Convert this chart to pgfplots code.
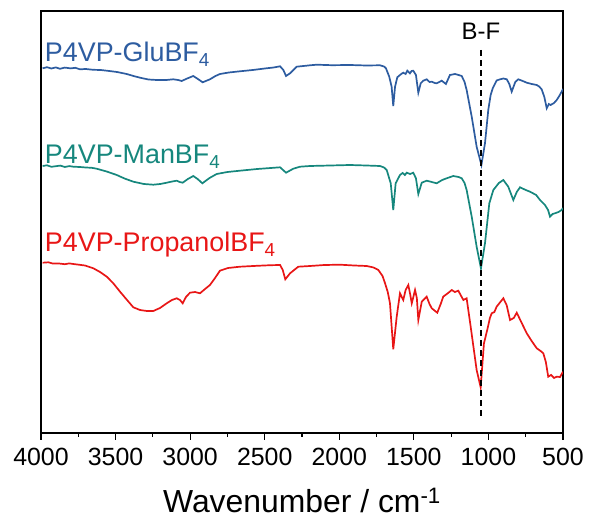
\documentclass[border=0pt]{standalone}
\usepackage{pgfplots}
\pgfplotsset{compat=1.18}
\usepackage{fontspec}
\setmainfont{Liberation Sans}
\definecolor{cblue}{RGB}{45,92,160}
\definecolor{cteal}{RGB}{22,135,125}
\definecolor{cred}{RGB}{232,22,22}
\begin{document}
\begin{tikzpicture}
\path (-41bp,-88bp) rectangle (548bp,433bp);
\begin{axis}[
  at={(0,0)}, anchor=south west,
  width=522bp, height=422bp, scale only axis,
  xmin=500, xmax=4000, ymin=-433, ymax=-11,
  x dir=reverse,
  xtick={500,1000,...,4000},
  minor x tick num=1,
  ytick=\empty,
  xtick pos=left,
  tick align=inside,
  major tick length=-7bp, minor tick length=-3.5bp,
  axis line style={line width=1.2bp},
  tick style={black, line width=1.1bp},
  tick label style={font=\fontsize{25}{25}\selectfont},
  xticklabel style={yshift=-12bp},
  /pgf/number format/assume math mode=true,
  /pgf/number format/1000 sep={},
  xlabel={Wavenumber / cm\textsuperscript{-1}},
  xlabel style={font=\fontsize{32}{32}\selectfont, at={(axis description cs:0.5,0)}, anchor=base, yshift=-79bp},
]
\addplot[cblue, line width=1.7bp] coordinates {
(3989,-68.3) (3960,-67.2) (3930,-68.5) (3900,-67.4) (3873,-68.8) (3840,-67.6) (3800,-68.4) (3770,-67.8)
(3739,-69.3) (3700,-69) (3650,-69.8) (3600,-70) (3559,-70.7) (3490,-72) (3425,-74) (3380,-76)
(3336,-77.7) (3280,-79.5) (3224,-80) (3160,-80) (3113,-79.3) (3080,-80) (3057,-81) (3023,-78.7)
(2979,-76) (2945,-79.3) (2916,-82.3) (2867,-79.3) (2830,-76) (2800,-74) (2740,-72.5) (2666,-71.3)
(2580,-70) (2500,-68.5) (2440,-67.5) (2397,-66.3)
(2375,-70) (2357,-76) (2330,-73.3) (2286,-66.7) (2240,-66) (2196,-65.3) (2151,-64.7) (2050,-65.2) (1928,-65)
(1820,-65.5) (1727,-65.3) (1700,-66.5) (1687,-68.3) (1665,-76.7) (1649,-86.7) (1638,-106) (1626,-86.7) (1611,-77.3)
(1593,-75) (1580,-73.5) (1571,-72.7) (1555,-74) (1544,-70.7) (1526,-73.3) (1515,-71) (1504,-70.7) (1486,-75) (1470,-92.7)
(1454,-83.3) (1437,-80.7) (1414,-79.3) (1395,-82) (1380,-81.7) (1360,-83) (1347,-83.3) (1313,-80.7) (1285,-84)
(1258,-75) (1240,-74.5) (1224,-74) (1200,-75) (1179,-76) (1160,-82) (1146,-90) (1112,-116.7) (1079,-146.7) (1047,-165)
(1023,-143.3) (1001,-110) (985,-95) (971,-88.3) (945,-80.5) (922,-79.3) (900,-78.5) (877,-79.3) (860,-84) (844,-91.7) (820,-82) (800,-79.3)
(770,-81) (743,-82.7) (710,-84) (676,-85) (660,-86.5) (643,-89.3) (625,-97) (609,-108.3) (595,-104) (583,-105) (560,-103) (542,-100) (525,-96) (509,-91.7) (500,-89)
};
\addplot[cteal, line width=1.7bp] coordinates {
(3989,-166) (3960,-165.3) (3930,-166.8) (3900,-166.2) (3870,-165.6) (3840,-167) (3810,-166.1) (3783,-166.7)
(3740,-167) (3700,-167.5) (3660,-167.8) (3627,-168.7) (3560,-171.5) (3492,-175) (3440,-178.5) (3381,-181.7)
(3310,-184) (3247,-184.7) (3200,-184) (3157,-182.7) (3120,-181.5) (3090,-180.7) (3070,-182) (3050,-182.7) (3015,-179) (2979,-176) (2950,-179) (2918,-183.3)
(2870,-178) (2822,-174) (2750,-172) (2666,-170.7) (2550,-169) (2460,-168) (2397,-167.3) (2357,-172.7) (2308,-168.7) (2263,-166.7) (2196,-166) (2060,-165.5) (1928,-165)
(1820,-165.5) (1727,-166) (1700,-167.5) (1682,-170) (1655,-183.3) (1638,-210) (1622,-183.3) (1593,-175) (1575,-173) (1560,-175) (1548,-172.7)
(1525,-174) (1504,-172.7) (1486,-178.3) (1470,-194) (1447,-182.7) (1414,-180.7) (1380,-182) (1347,-183.3) (1310,-180) (1280,-178.3)
(1236,-176) (1200,-177) (1179,-178.3) (1160,-183) (1146,-190) (1112,-216.7) (1079,-246.7) (1050,-268.3) (1023,-243.3)
(994,-203.3) (967,-190) (930,-183) (900,-180) (867,-186.7) (833,-200) (810,-192) (788,-187.3) (750,-190) (721,-191.7)
(680,-195) (654,-200) (621,-205) (600,-210) (587,-216.7) (570,-214) (554,-213.3) (530,-212) (509,-210) (500,-208)
};
\addplot[cred, line width=1.7bp] coordinates {
(3989,-262.7) (3950,-262.3) (3920,-263.6) (3880,-263.5) (3840,-264.2) (3810,-263.4) (3783,-264) (3705,-265.5) (3649,-268.3) (3604,-272)
(3559,-276.7) (3517,-283) (3470,-291.7) (3423,-300) (3381,-307.3) (3336,-310) (3290,-311) (3247,-311) (3202,-308) (3157,-303.3)
(3122,-300) (3090,-298.3) (3068,-300) (3050,-303.3) (3028,-297) (3001,-292.7) (2967,-292) (2934,-293.3) (2900,-289) (2867,-285)
(2833,-278) (2800,-270.7) (2746,-268) (2666,-266.7) (2550,-265.8) (2460,-265.2) (2397,-265) (2379,-270) (2362,-279.3) (2330,-273.3) (2275,-266.7)
(2196,-266) (2100,-265) (1995,-264.7) (1900,-265.5) (1816,-266) (1770,-267.5) (1738,-270) (1710,-276) (1693,-283.3) (1675,-292) (1660,-303.3) (1638,-349.3)
(1615,-316.7) (1593,-293.3) (1571,-300) (1555,-290) (1537,-285) (1525,-294) (1514,-303.3) (1492,-290) (1480,-298) (1470,-320)
(1447,-301.7) (1414,-296.7) (1395,-304) (1380,-308.3) (1343,-312.7) (1320,-304) (1303,-296.7) (1270,-293) (1246,-290) (1225,-292) (1202,-290.7)
(1168,-300) (1146,-298.3) (1119,-326.7) (1079,-370) (1052,-387.3) (1030,-343.3) (1008,-330) (990,-318)
(978,-313.3) (960,-312) (945,-306.7) (920,-302) (900,-298.3) (878,-305) (855,-320) (830,-318) (810,-312.7) (780,-322) (743,-333.3) (710,-341) (676,-348.3)
(650,-351) (632,-353.3) (615,-362) (599,-376.7) (580,-375) (560,-378) (542,-376.7) (520,-377) (500,-371.7)
};
\addplot[black, line width=1.2bp, dash pattern=on 6bp off 4bp] coordinates {(1050,-50) (1050,-418)};
\node[anchor=base west, inner sep=0, text=cblue, font=\fontsize{27}{27}\selectfont] at (axis cs:3975,-62) {P4VP-GluBF\textsubscript{4}};
\node[anchor=base west, inner sep=0, text=cteal, font=\fontsize{27}{27}\selectfont] at (axis cs:3975,-164) {P4VP-ManBF\textsubscript{4}};
\node[anchor=base west, inner sep=0, text=cred, font=\fontsize{27}{27}\selectfont] at (axis cs:3975,-252) {P4VP-PropanolBF\textsubscript{4}};
\node[anchor=base, inner sep=0, font=\fontsize{24}{24}\selectfont] at (axis cs:1050,-40) {B-F};
\end{axis}
\end{tikzpicture}
\end{document}
